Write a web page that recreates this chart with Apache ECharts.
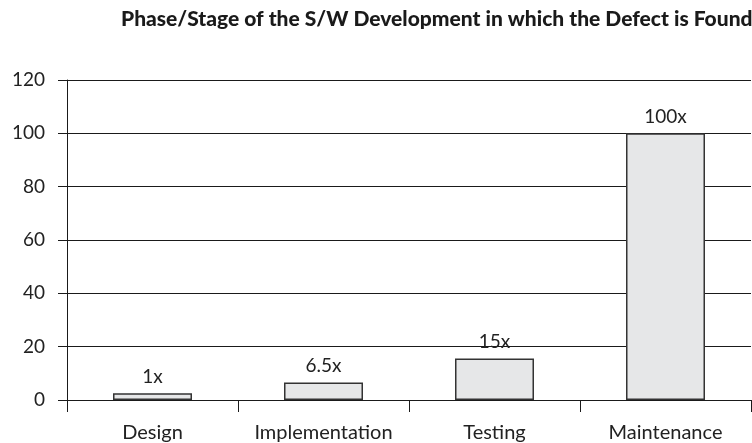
<!DOCTYPE html>
<html>
<head>
<meta charset="utf-8">
<script src="https://cdn.jsdelivr.net/npm/echarts@6/dist/echarts.min.js"></script>
<style>
  html, body { margin: 0; padding: 0; background: #fff; }
  #chart { width: 752px; height: 443px; }
</style>
</head>
<body>
<div id="chart"></div>
<script>
    // phases of development
    var phases = ['Design', 'Implementation', 'Testing', 'Maintenance'];
    // bar heights as drawn
    var costValues = [2.5, 6.6, 15.6, 100];
    // text above each bar
    var costLabels = ['1x', '6.5x', '15x', '100x'];
    var yTicks = { min: 0, max: 120, interval: 20 };

    var font = 'Lato, "Open Sans", sans-serif';
    var chart = echarts.init(document.getElementById('chart'));

    var option = {
        animation: false,
        title: {
            text: 'Phase/Stage of the S/W Development in which the Defect is Found',
            left: 116,
            top: 4,
            textStyle: { fontFamily: font, fontWeight: 900, fontSize: 21, color: '#1a1a1a' }
        },
        grid: { left: 67, right: 1, top: 80, bottom: 43 },
        xAxis: {
            type: 'category',
            data: phases,
            axisLine: { lineStyle: { color: '#1a1a1a', width: 1 } },
            axisTick: { show: true, length: 12, lineStyle: { color: '#1a1a1a' } },
            axisLabel: { interval: 0, hideOverlap: false, fontFamily: font, fontSize: 20, color: '#222', margin: 23 }
        },
        yAxis: {
            type: 'value',
            min: yTicks.min,
            max: yTicks.max,
            interval: yTicks.interval,
            axisLine: { show: true, lineStyle: { color: '#1a1a1a', width: 1 } },
            axisTick: { show: true, length: 9, lineStyle: { color: '#1a1a1a' } },
            splitLine: { lineStyle: { color: '#1a1a1a', width: 1 } },
            axisLabel: { fontFamily: font, fontSize: 19, color: '#222', margin: 22 }
        },
        series: [{
            type: 'bar',
            data: costValues,
            barWidth: 79,
            itemStyle: { color: '#e6e7e8', borderColor: '#333', borderWidth: 1.5 },
            label: {
                show: true,
                position: 'top',
                distance: 7,
                fontFamily: font,
                fontSize: 19,
                color: '#222',
                formatter: function (p) { return costLabels[p.dataIndex]; }
            }
        }]
    };

    chart.setOption(option);
</script>
</body>
</html>
